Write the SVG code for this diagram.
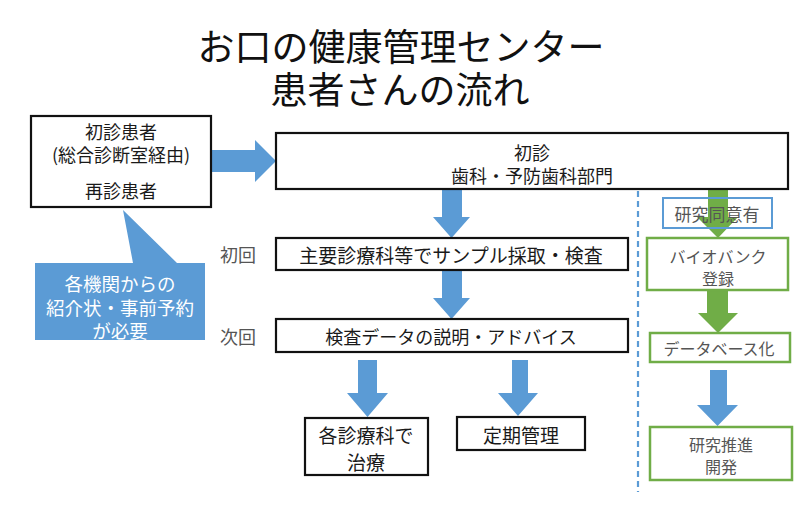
<svg xmlns="http://www.w3.org/2000/svg" width="800" height="517" viewBox="0 0 800 517">
<style>
  text { font-family: "Noto Sans CJK JP", "Noto Sans", sans-serif; text-anchor: middle; dominant-baseline: central; }
  .title { font-size: 37px; fill: #111; }
  .bk { fill: #fff; stroke: #111; stroke-width: 2.2; }
  .gr { fill: #fff; stroke: #70ad47; stroke-width: 2.5; }
  .bl { fill: none; stroke: #5b9bd5; stroke-width: 2; }
  .t { font-size: 18px; fill: #1a1a1a; }
  .tg { font-size: 16px; fill: #555; }
  .lab { font-size: 18px; fill: #555; }
  .ab { fill: #5b9bd5; }
  .ag { fill: #70ad47; }
  .w { fill: #fff; font-size: 18.5px; }
</style>
<rect width="800" height="517" fill="#fff"/>
<g id="title">
  <text class="title" x="401" y="45">お口の健康管理センター</text>
  <text class="title" x="400" y="88">患者さんの流れ</text>
</g>
<g id="connectors">
  <polygon class="ab" points="211,150 255,150 255,140 276,161 255,182 255,172 211,172"/>
  <polygon class="ab" points="442,189 462,189 462,217 470,217 451.5,238 433,217 442,217"/>
  <polygon class="ab" points="442,270 462,270 462,298 470,298 451.5,319 433,298 442,298"/>
  <polygon class="ab" points="358,360 377,360 377,393 388,393 367.5,417 347,393 358,393"/>
  <polygon class="ab" points="512,360 528,360 528,393 538,393 518,416 498,393 512,393"/>
  <polygon class="ag" points="708,189 728,189 728,217 738,217 718,238 697,217 708,217"/>
  <polygon class="ag" points="707,290 728,290 728,313 738,313 718,333 698,313 707,313"/>
  <polygon class="ab" points="710,370 727,370 727,405 738,405 717.5,426 697,405 710,405"/>
  <line x1="638" y1="191" x2="638" y2="492" stroke="#5b9bd5" stroke-width="2.2" stroke-dasharray="6,4"/>
</g>
<g id="node-patients">
  <rect class="bk" x="31" y="116" width="180" height="91"/>
  <text class="t" x="121" y="131">初診患者</text>
  <text class="t" x="121" y="154">(総合診断室経由)</text>
  <text class="t" x="121" y="190">再診患者</text>
</g>
<g id="node-callout">
  <polygon fill="#5b9bd5" points="123,210 133,263 35,263 35,340 205,340 205,263 177,263"/>
  <text class="w" x="120" y="283">各機関からの</text>
  <text class="w" x="120" y="307">紹介状・事前予約</text>
  <text class="w" x="120" y="330">が必要</text>
</g>
<g id="node-shoshin">
  <rect class="bk" x="276" y="133" width="512" height="56"/>
  <text class="t" x="532" y="152">初診</text>
  <text class="t" x="532" y="175">歯科・予防歯科部門</text>
</g>
<g id="node-sample">
  <text class="lab" x="238" y="254">初回</text>
  <rect class="bk" x="276" y="238" width="352" height="32"/>
  <text class="t" x="451" y="254" style="font-size:19px">主要診療科等でサンプル採取・検査</text>
</g>
<g id="node-explain">
  <text class="lab" x="238" y="336">次回</text>
  <rect class="bk" x="276" y="319" width="352" height="33"/>
  <text class="t" x="451" y="336">検査データの説明・アドバイス</text>
</g>
<g id="node-treat">
  <rect class="bk" x="305" y="418" width="123" height="57"/>
  <text class="t" x="366" y="434" style="font-size:19px">各診療科で</text>
  <text class="t" x="366" y="461" style="font-size:19px">治療</text>
</g>
<g id="node-regular">
  <rect class="bk" x="457" y="417" width="128" height="33"/>
  <text class="t" x="521" y="434" style="font-size:19px">定期管理</text>
</g>
<g id="node-consent">
  <rect class="bl" x="663" y="198" width="109" height="30"/>
  <text class="tg" x="717" y="213" style="font-size:17px">研究同意有</text>
</g>
<g id="node-biobank">
  <rect class="gr" x="647" y="238" width="141" height="52"/>
  <text class="tg" x="718" y="256">バイオバンク</text>
  <text class="tg" x="718" y="278">登録</text>
</g>
<g id="node-database">
  <rect class="gr" x="650" y="333" width="140" height="29"/>
  <text class="tg" x="719" y="348">データベース化</text>
</g>
<g id="node-research">
  <rect class="gr" x="650" y="427" width="142" height="53"/>
  <text class="tg" x="721" y="444">研究推進</text>
  <text class="tg" x="721" y="466">開発</text>
</g>
</svg>
